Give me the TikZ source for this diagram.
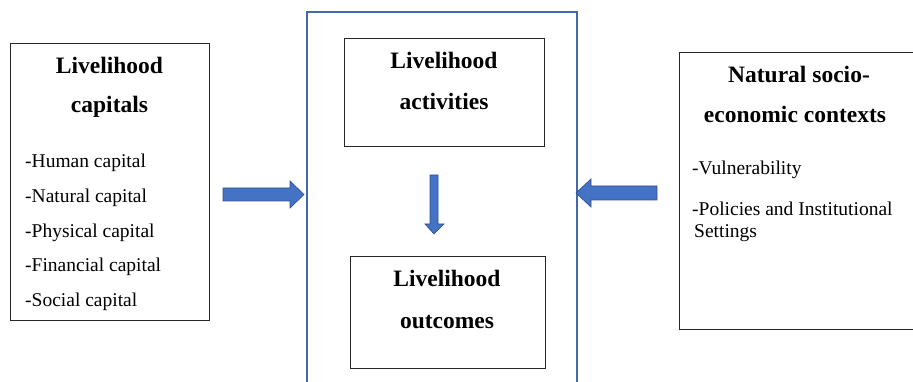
\documentclass[tikz,border=0pt]{standalone}
\usepackage{fontspec}
\setmainfont{Liberation Serif}
\definecolor{frameblue}{RGB}{66,106,170}
\definecolor{arrowfill}{RGB}{68,114,196}
\definecolor{arrowline}{RGB}{47,82,143}
\tikzset{
  box/.style={draw=black!85, line width=0.8pt, inner sep=0},
  frame/.style={draw=frameblue, line width=1.6pt, inner sep=0},
  title/.style={font=\bfseries\fontsize{23.5}{28}\selectfont, inner sep=0, anchor=base},
  body/.style={font=\fontsize{19.5}{22}\selectfont, inner sep=0, anchor=base west},
  blockarrow/.style={fill=arrowfill, draw=arrowline, line width=0.7pt, line join=miter}
}
\begin{document}
\begin{tikzpicture}[x=1pt,y=-1pt]
\useasboundingbox (0,0) rectangle (913,382);
\clip (0,0) rectangle (913,382);
% boxes
\node[box, anchor=north west, minimum width=199pt, minimum height=277pt] (capbox) at (10,43) {};
\node[frame, anchor=north west, minimum width=270pt, minimum height=390pt] (midbox) at (306,11) {};
\node[box, anchor=north west, minimum width=200pt, minimum height=108pt] (actbox) at (344,38) {};
\node[box, anchor=north west, minimum width=195pt, minimum height=112pt] (outbox) at (350,256) {};
\node[box, anchor=north west, minimum width=260pt, minimum height=277pt] (ctxbox) at (679,52) {};
% left box texts
\node[title] (t1a) at (109.5,74) {Livelihood};
\node[title] (t1b) at (109.5,113) {capitals};
\node[body] (l1) at (25,168) {-Human capital};
\node[body] (l2) at (25,203) {-Natural capital};
\node[body] (l3) at (25,237) {-Physical capital};
\node[body] (l4) at (25,272) {-Financial capital};
\node[body] (l5) at (25,306) {-Social capital};
% middle texts
\node[title] (t2a) at (444,69) {Livelihood};
\node[title] (t2b) at (444,110) {activities};
\node[title] (t3a) at (447,287) {Livelihood};
\node[title] (t3b) at (447,328) {outcomes};
% right texts
\node[title] (t4a) at (799,83) {Natural socio-};
\node[title] (t4b) at (795,123) {economic contexts};
\node[body] (r1) at (692,175) {-Vulnerability};
\node[body] (r2) at (692,215) {-Policies and Institutional};
\node[body] (r3) at (694,237) {Settings};
% block arrows
\draw[blockarrow] (223,188) -- (290,188) -- (290,181) -- (304,194.5) -- (290,208) -- (290,201) -- (223,201) -- cycle;
\draw[blockarrow] (657,186) -- (591,186) -- (591,179) -- (576,193) -- (591,207) -- (591,200) -- (657,200) -- cycle;
\draw[blockarrow] (430,175) -- (438,175) -- (438,224) -- (444,224) -- (434,234) -- (425,224) -- (430,224) -- cycle;
\end{tikzpicture}
\end{document}
